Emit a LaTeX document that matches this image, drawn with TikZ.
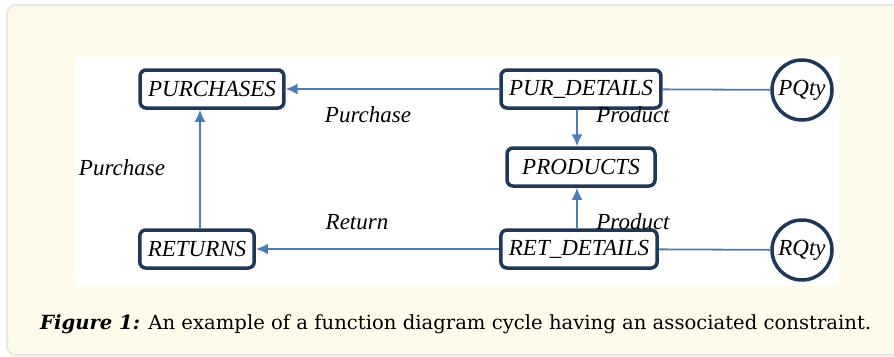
\documentclass[tikz,border=0pt]{standalone}
\usepackage{fontspec}
\setmainfont{Liberation Serif}
\newfontfamily\capfont{DejaVu Serif}
\usepackage{graphicx}
\usepackage{tikz}
\usetikzlibrary{arrows.meta}
\definecolor{panelbg}{HTML}{FEFBEA}
\definecolor{panelrule}{HTML}{E9E7DF}
\definecolor{boxline}{HTML}{1F3858}
\definecolor{linkblue}{HTML}{4A7EBB}
\begin{document}
\begin{tikzpicture}[x=1pt,y=-1pt,>={Latex[length=12pt,width=11pt]},
  every node/.style={font=\fontsize{23}{26}\selectfont\itshape},
  entity/.style={draw=boxline,line width=3.5pt,rounded corners=6pt,fill=white,inner xsep=8pt,minimum height=38pt},
  attr/.style={draw=boxline,line width=3.5pt,circle,fill=white,inner sep=1pt,minimum size=60pt},
  link/.style={line width=1.8pt,color=linkblue}]
\path[use as bounding box,clip] (0,0) rectangle (894,356);
\draw[panelrule,line width=2pt,fill=panelbg,rounded corners=9pt] (7,5) rectangle (930,355);
\fill[white] (75,57) rectangle (839,286);
\node[entity] (purch) at (212,89) {PURCHASES};
\node[entity] (purdet) at (581,89) {PUR\_DETAILS};
\node[attr] (pqty) at (802,90) {PQty};
\node[entity,minimum width=148pt] (prod) at (581,167) {PRODUCTS};
\node[entity] (retdet) at (579,249) {RET\_DETAILS};
\node[attr] (rqty) at (802,250) {RQty};
\node[entity] (ret) at (197,249) {RETURNS};
\draw[->,link] (purdet)--(purch);
\draw[link] (purdet)--(pqty);
\draw[->,link] (purdet.south -| 577,0)--(prod.north -| 577,0);
\draw[->,link] (retdet.north -| 577,0)--(prod.south -| 577,0);
\draw[->,link] (retdet)--(ret);
\draw[link] (retdet)--(rqty);
\draw[->,link] (ret.north -| 200,0)--(purch.south -| 200,0);
\node (lpur) at (368,115) {Purchase};
\node (lpurl) at (122,168) {Purchase};
\node (lret) at (357,222) {Return};
\node (lprodu) at (633,115) {Product};
\node (lprodd) at (633,222) {Product};
\node[anchor=base west,inner sep=0pt,font=\capfont\fontsize{19.5}{22}\selectfont] (cap) at (40,329)
  {\resizebox{831pt}{\height}{\textbf{\textit{Figure 1:}} An example of a function diagram cycle having an associated constraint.}};
\end{tikzpicture}
\end{document}
